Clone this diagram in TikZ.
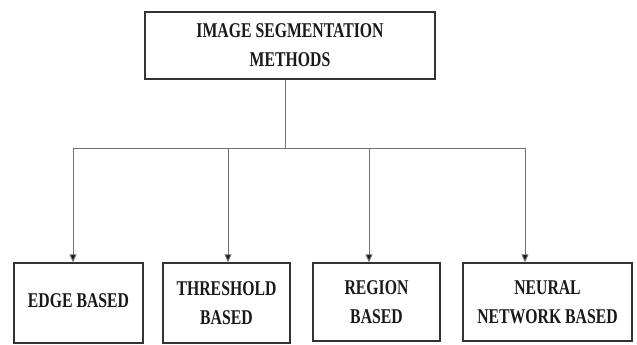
\documentclass[tikz,border=0pt]{standalone}
\usepackage{fontspec}
\setmainfont{Liberation Serif}[FakeStretch=0.75]
\usetikzlibrary{arrows.meta}
\begin{document}
\begin{tikzpicture}[x=1pt,y=-1pt,
  box/.style={draw=black!80, line width=1.4pt, align=center, inner sep=0pt,
    font=\bfseries\fontsize{21}{29}\selectfont, text=black!90},
  conn/.style={draw=black!55, line width=0.9pt},
  arr/.style={conn, -{Triangle[width=7pt,length=8pt,fill=black!90]}}]
\useasboundingbox (0,0) rectangle (637,345);
\node[box, minimum width=290pt, minimum height=67pt] (top) at (290,45.5) {IMAGE SEGMENTATION\\METHODS};
\node[box, minimum width=129pt, minimum height=80pt] (b1) at (78.5,303) {\raisebox{5pt}{EDGE BASED}};
\node[box, minimum width=127pt, minimum height=80pt] (b2) at (226.5,303) {THRESHOLD\\BASED};
\node[box, minimum width=127pt, minimum height=78pt] (b3) at (376.5,302) {REGION\\BASED};
\node[box, minimum width=169pt, minimum height=78pt] (b4) at (547.5,302) {NEURAL\\NETWORK BASED};
\coordinate (hub) at (285,148);
\coordinate (j1) at (73,148);
\coordinate (j2) at (228,148);
\coordinate (j3) at (369,148);
\coordinate (j4) at (525,148);
\draw[conn] (hub |- top.south) -- (hub);
\draw[conn] (j1) -- (j4);
\draw[arr] (j1) -- (j1 |- b1.north);
\draw[arr] (j2) -- (j2 |- b2.north);
\draw[arr] (j3) -- (j3 |- b3.north);
\draw[arr] (j4) -- (j4 |- b4.north);
\end{tikzpicture}
\end{document}
